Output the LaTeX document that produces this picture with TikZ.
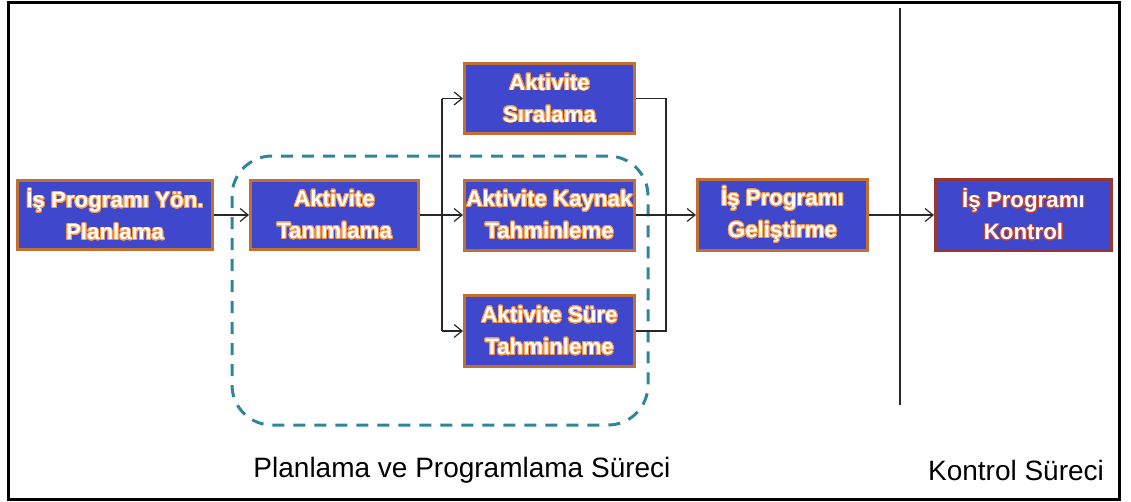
\documentclass[tikz,border=0pt]{standalone}
\usepackage{fontspec}
\setmainfont{Liberation Sans}
\usepackage[copies]{contour}
\usetikzlibrary{arrows.meta}
\definecolor{boxblue}{RGB}{63,72,204}
\definecolor{boxedge}{RGB}{192,112,50}
\definecolor{ctrledge}{RGB}{150,55,50}
\definecolor{glow}{RGB}{245,150,70}
\definecolor{glowred}{RGB}{190,70,60}
\definecolor{teal}{RGB}{49,133,155}
\definecolor{wire}{RGB}{40,40,40}
\contourlength{0.9pt}
\contournumber{32}
\newcommand{\bt}[1]{\contour{glow}{\textcolor{white}{#1}}}
\newcommand{\btr}[1]{\contour{glowred}{\textcolor{white}{#1}}}
\tikzset{
  procbox/.style={draw=boxedge, line width=3pt, fill=boxblue, inner sep=0pt,
    align=center, font=\bfseries\fontsize{22.3}{32}\selectfont},
  arr/.style={draw=wire, line width=1.2pt, -{Straight Barb[length=8pt,width=13pt]}},
  wireline/.style={draw=wire, line width=1.2pt},
  dashbox/.style={draw=teal, line width=3pt, dash pattern=on 12pt off 9pt,
    rounded corners=40pt, inner sep=0pt},
  phase/.style={font=\fontsize{28}{34}\selectfont, inner sep=0pt}
}
\begin{document}
\begin{tikzpicture}[x=1pt,y=-1pt]
\useasboundingbox (0,0) rectangle (1131,501);
% outer frame
\draw[line width=3pt] (8.5,2.5) rectangle (1119.5,499.5);

% planning group outline
\node[dashbox, minimum width=416pt, minimum height=269pt] (grp) at (440,290.5) {};

% process boxes
\node[procbox, minimum width=195pt, minimum height=69pt] (plan) at (115,215)
  {\bt{İş Programı Yön.}\\\bt{Planlama}};
\node[procbox, minimum width=168pt, minimum height=69pt] (tan) at (334.5,215)
  {\bt{Aktivite}\\\bt{Tanımlama}};
\node[procbox, minimum width=170pt, minimum height=70pt] (sir) at (549.5,98.5)
  {\bt{Aktivite}\\\bt{Sıralama}};
\node[procbox, minimum width=170pt, minimum height=70pt] (kay) at (549.5,215)
  {\bt{Aktivite Kaynak}\\\bt{Tahminleme}};
\node[procbox, minimum width=170pt, minimum height=71pt] (sure) at (549.5,331)
  {\bt{Aktivite Süre}\\\bt{Tahminleme}};
\node[procbox, minimum width=170pt, minimum height=71pt] (gel) at (782.5,215)
  {\bt{İş Programı}\\\bt{Geliştirme}};
\node[procbox, draw=ctrledge, minimum width=176pt, minimum height=71pt] (kon) at (1023.5,215)
  {\btr{İş Programı}\\\btr{Kontrol}};

% connectors
\coordinate (fork) at (442,215);
\coordinate (join) at (666,215);
\draw[arr] (plan) -- (tan);
\draw[wireline] (tan.east) -- (fork);
\draw[wireline] (fork |- sir) -- (fork |- sure);
\draw[arr] (fork |- sir) -- (sir.west);
\draw[arr] (fork) -- (kay.west);
\draw[arr] (fork |- sure) -- (sure.west);
\draw[wireline] (sir.east) -| (join) |- (sure.east);
\draw[arr] (kay.east) -- (gel.west);
\draw[arr] (gel.east) -- (kon.west);

% phase separator
\coordinate (septop) at (900,8);
\coordinate (sepbot) at (900,405);
\draw[line width=1.5pt, draw=wire] (septop) -- (sepbot);

% phase labels
\node[phase] (lplan) at (462,470) {Planlama ve Programlama Süreci};
\node[phase] (lctrl) at (1016,470) {Kontrol Süreci};
\end{tikzpicture}
\end{document}
